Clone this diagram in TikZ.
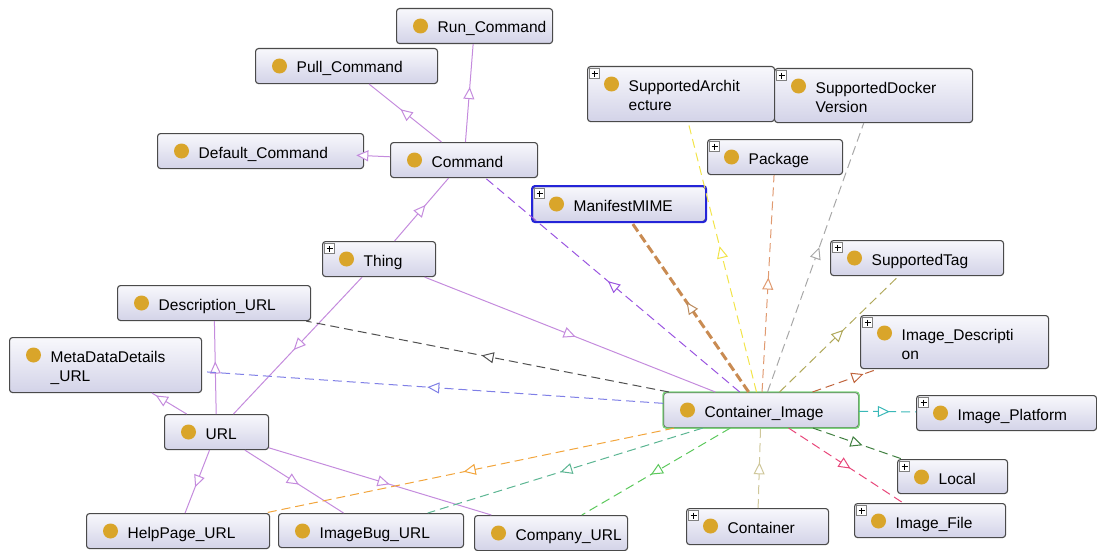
\documentclass[tikz,border=0pt]{standalone}
\usepackage{fontspec}
\setmainfont{Liberation Sans}
\usetikzlibrary{arrows.meta,decorations.markings}

\definecolor{boxline}{HTML}{4A4A4A}
\definecolor{boxtop}{HTML}{F8F8FC}
\definecolor{boxbot}{HTML}{D3D3E8}
\definecolor{gold}{HTML}{D9A52A}
\definecolor{purp}{HTML}{C48BDD}
\definecolor{selblue}{HTML}{2424D8}
\definecolor{focgreen}{HTML}{7FD67F}
\definecolor{cvio}{HTML}{9A55E0}
\definecolor{cman}{HTML}{C98B52}
\definecolor{cyel}{HTML}{F2E44A}
\definecolor{cpkg}{HTML}{E09A70}
\definecolor{cgray}{HTML}{A8A8A8}
\definecolor{colive}{HTML}{B0A85A}
\definecolor{crust}{HTML}{C0643C}
\definecolor{cteal}{HTML}{3AB8B8}
\definecolor{cdgreen}{HTML}{3F7F3F}
\definecolor{cpink}{HTML}{E8477A}
\definecolor{ckhaki}{HTML}{CFC79A}
\definecolor{cgreen}{HTML}{5CC85C}
\definecolor{csea}{HTML}{5BB592}
\definecolor{corange}{HTML}{F2A53C}
\definecolor{cdark}{HTML}{505050}
\definecolor{cblue}{HTML}{7F7FE6}

\tikzset{
  cls/.style={draw=boxline,line width=1.1pt,rounded corners=3pt,
    top color=boxtop,bottom color=boxbot,inner sep=0pt,anchor=north west},
  txt/.style={anchor=base west,inner sep=0pt,text width=170pt,align=left,
    font=\fontsize{15.5}{19}\selectfont},
  isa/.style={draw=purp,line width=1pt},
  rel/.style={line width=1pt,dash pattern=on 9pt off 5pt},
  midtri/.style={postaction={decorate},decoration={markings,
    mark=at position 0.5 with {\pgftransformxshift{6pt}%
      \arrow[color=#1]{Triangle[open,fill=white,length=12pt,width=11pt,line width=1pt]}}}}
}

\begin{document}
\begin{tikzpicture}[x=1pt,y=-1pt]
\useasboundingbox (0,0) rectangle (1097,551);

% class boxes
\foreach \n/\x/\y/\w/\h/\t in {
  run/396/8/156/35/{Run\_Command},
  pull/255/48/182/35/{Pull\_Command},
  dflt/157/133/206/35/{Default\_Command},
  cmd/390/142/147/35/{Command},
  arch/587/66/187/55/{SupportedArchit\\ecture},
  docker/774/68/198/54/{SupportedDocker\\Version},
  pkg/707/139/135/35/{Package},
  mime/532/186/173/35/{ManifestMIME},
  thing/322/241/113/35/{Thing},
  tag/830/240/173/35/{SupportedTag},
  descurl/117/285/193/35/{Description\_URL},
  meta/9/337/192/55/{MetaDataDetails\\\_URL},
  idesc/860/315/188/53/{Image\_Descripti\\on},
  cimg/663/392/195/35/{Container\_Image},
  plat/916/395/180/35/{Image\_Platform},
  url/164/414/104/35/{URL},
  local/897/459/110/34/{Local},
  help/86/513/183/35/{HelpPage\_URL},
  bug/278/513/185/34/{ImageBug\_URL},
  comp/474/515/153/35/{Company\_URL},
  cont/686/508/142/36/{Container},
  ifile/854/503/151/34/{Image\_File}}
{
  \node[cls,minimum width=\w,minimum height=\h] (\n) at (\x,\y) {};
  \node[txt] (\n-t) at ([shift={(41.5,25)}]\n.north west) {\t};
}

% selected / focused boxes
\draw[selblue,line width=2pt,rounded corners=3pt] (mime.north west) rectangle (mime.south east);
\draw[focgreen,line width=1.4pt,rounded corners=3pt] (cimg.north west) rectangle (cimg.south east);

% class icons
\foreach \n in {run,pull,dflt,cmd,arch,docker,pkg,mime,thing,tag,descurl,meta,idesc,cimg,plat,url,local,help,bug,comp,cont,ifile}
{
  \fill[gold] ([shift={(24.5,18)}]\n.north west) circle (7.5);
}

% expand markers
\foreach \n in {arch,docker,pkg,mime,thing,tag,idesc,plat,local,cont,ifile}
{
  \draw[gray,fill=white,line width=0.6pt] ([shift={(2.5,2.5)}]\n.north west) rectangle ++(10,10);
  \draw[black,line width=0.9pt] ([shift={(4.5,7.5)}]\n.north west) -- ++(6,0)
    ([shift={(7.5,4.5)}]\n.north west) -- ++(0,6);
}

% subclass edges
\foreach \a/\b in {cmd/run,cmd/pull,cmd/dflt,thing/cmd,thing/cimg,thing/url,
  url/descurl,url/meta,url/help,url/bug,url/comp}
{
  \draw[isa] (\a) -- (\b);
  \path[midtri=purp] (\a.center) -- (\b.center);
}

% property edges
\foreach \b/\c in {cmd/cvio,arch/cyel,pkg/cpkg,docker/cgray,tag/colive,idesc/crust,
  plat/cteal,local/cdgreen,ifile/cpink,comp/cgreen,bug/csea,help/corange,
  descurl/cdark,meta/cblue}
{
  \draw[rel,draw=\c] (cimg) -- (\b);
  \path[midtri=\c] (cimg.center) -- (\b.center);
}
\draw[cman,line width=3pt,dash pattern=on 9pt off 4pt] (cimg) -- (mime);
\path[midtri=cman!80!gray] (cimg.center) -- (mime.center);
\draw[rel,draw=ckhaki] (cont) -- (cimg);
\path[midtri=ckhaki] (cont.center) -- (cimg.center);

\end{tikzpicture}
\end{document}
